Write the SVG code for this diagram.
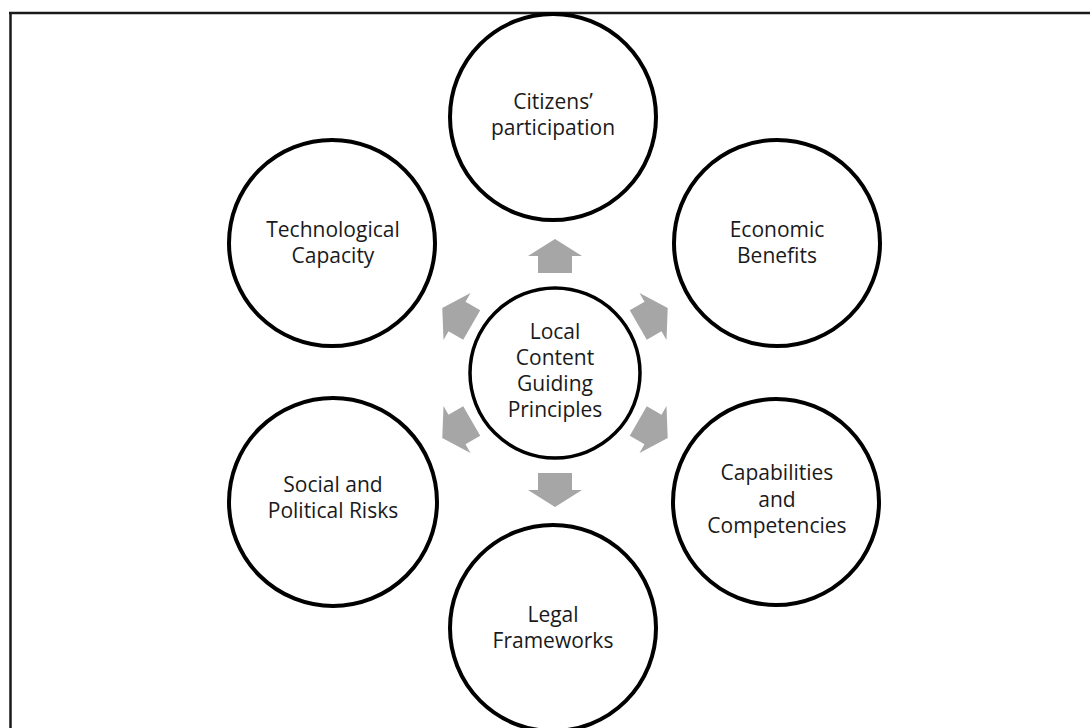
<svg xmlns="http://www.w3.org/2000/svg" width="1090" height="728" viewBox="0 0 1090 728">
  <style>
    .ring { fill: #ffffff; stroke: #000000; stroke-width: 4; }
    .hub { fill: #ffffff; stroke: #000000; stroke-width: 3.5; }
    .lbl { font-family: "Open Sans", "Liberation Sans", sans-serif; font-size: 21px; fill: #1a1a1a; text-anchor: middle; }
    .frame { stroke: #1a1a1a; stroke-width: 2.5; fill: none; }
    .arrow { fill: #a6a6a6; }
  </style>
  <defs>
    <!-- block arrow pointing along +x, centred on the origin -->
    <polygon id="blockArrow" points="-17,-17 0,-17 0,-27 17,0 0,27 0,17 -17,17"/>
  </defs>

  <rect x="0" y="0" width="1090" height="728" fill="#ffffff"/>

  <!-- page frame (top and left edges) -->
  <path class="frame" d="M9,13 H1090 M10.5,12 V728"/>

  <!-- connectors: arrows radiating from the hub -->
  <g id="connectors" class="arrow">
    <use href="#blockArrow" transform="translate(555,256) rotate(-90)"/>
    <use href="#blockArrow" transform="translate(653,316.5) rotate(-30)"/>
    <use href="#blockArrow" transform="translate(653,429.5) rotate(30)"/>
    <use href="#blockArrow" transform="translate(555,490) rotate(90)"/>
    <use href="#blockArrow" transform="translate(457,429.5) rotate(150)"/>
    <use href="#blockArrow" transform="translate(457,316.5) rotate(210)"/>
  </g>

  <g id="node-hub">
    <circle class="hub" cx="555" cy="373" r="85"/>
    <text class="lbl"><tspan x="555" y="339">Local</tspan><tspan x="555" y="365">Content</tspan><tspan x="555" y="391">Guiding</tspan><tspan x="555" y="417">Principles</tspan></text>
  </g>

  <g id="node-citizens">
    <circle class="ring" cx="553" cy="117" r="103"/>
    <text class="lbl"><tspan x="553" y="109">Citizens’</tspan><tspan x="553" y="135">participation</tspan></text>
  </g>

  <g id="node-economic">
    <circle class="ring" cx="777" cy="243" r="103"/>
    <text class="lbl"><tspan x="777" y="237">Economic</tspan><tspan x="777" y="263">Benefits</tspan></text>
  </g>

  <g id="node-capabilities">
    <circle class="ring" cx="776" cy="502" r="103"/>
    <text class="lbl"><tspan x="777" y="480">Capabilities</tspan><tspan x="777" y="507">and</tspan><tspan x="777" y="533">Competencies</tspan></text>
  </g>

  <g id="node-legal">
    <circle class="ring" cx="553" cy="628" r="103"/>
    <text class="lbl"><tspan x="553" y="622">Legal</tspan><tspan x="553" y="648">Frameworks</tspan></text>
  </g>

  <g id="node-social">
    <circle class="ring" cx="333" cy="502" r="104"/>
    <text class="lbl"><tspan x="333" y="492">Social and</tspan><tspan x="333" y="518">Political Risks</tspan></text>
  </g>

  <g id="node-technological">
    <circle class="ring" cx="332" cy="243" r="103"/>
    <text class="lbl"><tspan x="333" y="237">Technological</tspan><tspan x="333" y="263">Capacity</tspan></text>
  </g>
</svg>
